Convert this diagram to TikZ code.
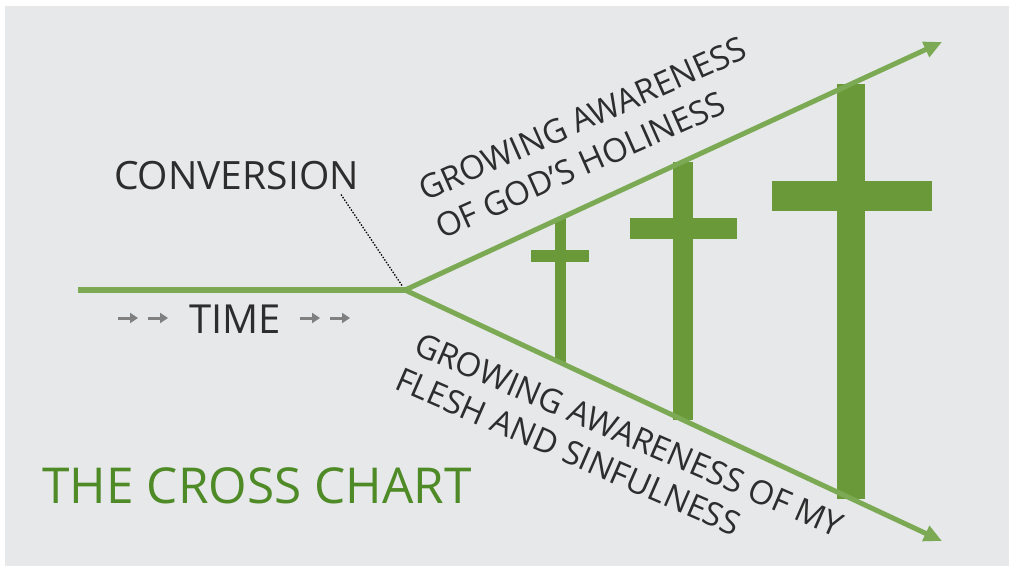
\documentclass[tikz,border=0pt]{standalone}
\usepackage{fontspec}
\setmainfont{Open Sans}
\usetikzlibrary{arrows.meta,calc}

\definecolor{backgray}{RGB}{231,232,234}
\definecolor{linegreen}{RGB}{124,170,84}
\definecolor{crossgreen}{RGB}{106,153,58}
\definecolor{titlegreen}{RGB}{78,138,38}
\definecolor{textgray}{RGB}{45,45,45}

\begin{document}
\begin{tikzpicture}[x=1pt,y=-1pt,
  growth/.style={linegreen,line width=5pt,-{Triangle[length=18pt,width=16pt]}},
  slanttext/.style={textgray,inner sep=0pt,font=\fontsize{33}{36}\selectfont},
  timearrow/.style={gray,line width=3pt,-{Triangle[length=8pt,width=10pt]}}]
\useasboundingbox (0,0) rectangle (1014,571);
\fill[white] (0,0) rectangle (1014,571);
\fill[backgray] (5,6) rectangle (1009,566);

\coordinate (start) at (78,290);
\coordinate (conv) at (405,290);
\coordinate (holy) at (942,42);
\coordinate (sin) at (942,541);

% crosses: position on the lines / post width / bar y / bar ends / bar height
\foreach \t/\w/\y/\l/\r/\h in {0.289/11/256/531/589/12, 0.518/20/228/630/737/21, 0.831/28/196/772/932/30}
{
	\draw[crossgreen,line width=\w pt] ($(conv)!\t!(holy)$) -- ($(conv)!\t!(sin)$);
	\fill[crossgreen] (\l,{\y-\h/2}) rectangle (\r,{\y+\h/2});
}

\draw[linegreen,line width=6pt] (start) -- (conv);
\draw[growth] (conv) -- (holy);
\draw[growth] (conv) -- (sin);

\node[textgray,inner sep=0pt,anchor=base,font=\fontsize{39}{42}\selectfont] (convlabel) at (236.5,189) {CONVERSION};
\draw[black,line width=1.3pt,dash pattern=on 1.4pt off 1.6pt,shorten >=5pt] ([xshift=-18pt,yshift=-5pt]convlabel.south east) -- (conv);

\node[textgray,inner sep=0pt,anchor=base,font=\fontsize{40}{44}\selectfont] (time) at (235,333) {TIME};
\foreach \x in {118,148,300,330}
	\draw[timearrow] (\x,318) -- (\x+20,318);

\node[slanttext,anchor=base west,rotate=24] (godA) at (425,202) {GROWING AWARENESS};
\node[slanttext,anchor=base west,rotate=24] (godB) at (442,240) {OF GOD’S HOLINESS};
\node[slanttext,anchor=base west,rotate=-23.5] (fleshA) at (412,353) {GROWING AWARENESS OF MY};
\node[slanttext,anchor=base west,rotate=-23.5] (fleshB) at (393,388) {FLESH AND SINFULNESS};

\node[titlegreen,inner sep=0pt,anchor=base,font=\fontsize{49.5}{54}\selectfont] (title) at (257,503) {THE CROSS CHART};
\end{tikzpicture}
\end{document}
